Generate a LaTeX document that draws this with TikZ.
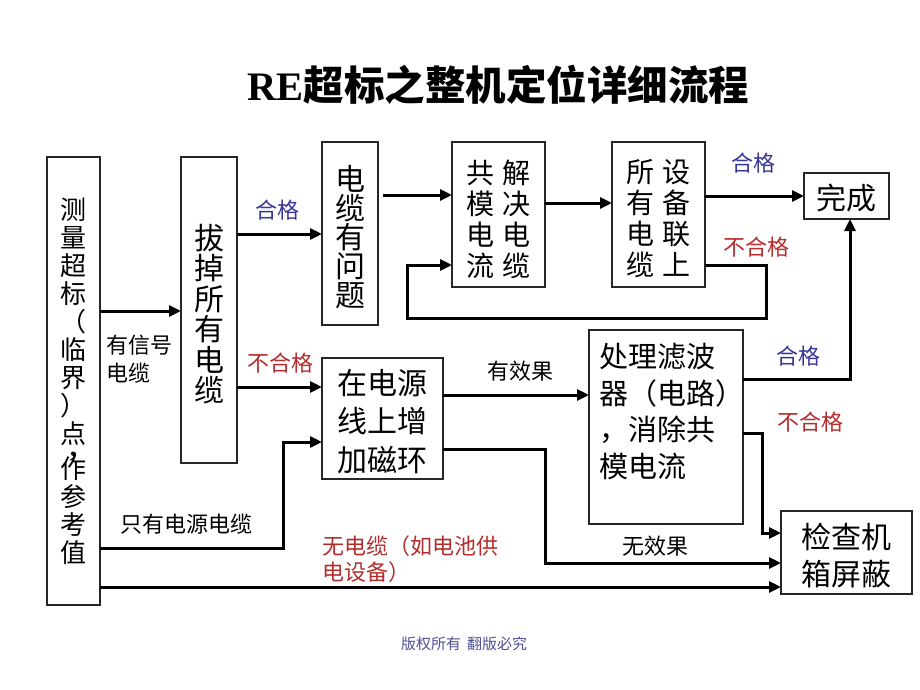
\documentclass[tikz,border=0pt]{standalone}
\usepackage{fontspec}
\setmainfont{Liberation Serif}
\newfontfamily\cjk{Noto Sans CJK SC}
\usetikzlibrary{arrows.meta}
\definecolor{okblue}{RGB}{55,55,150}
\definecolor{ngred}{RGB}{180,45,45}
\definecolor{footblue}{RGB}{80,80,150}
\begin{document}
\begin{tikzpicture}[x=1pt,y=-1pt,
  box/.style={draw=black!85,line width=1.1pt,inner sep=0pt,outer sep=0pt},
  arr/.style={line width=3pt,-{Triangle[length=12pt,width=11pt]}},
  txt/.style={inner sep=0pt,align=center},
  lbl/.style={inner sep=0pt,font=\cjk\fontsize{22}{28}\selectfont},
  okl/.style={lbl,text=okblue},
  ngl/.style={lbl,text=ngred}]
\useasboundingbox (0,0) rectangle (920,690);
\fill[white] (0,0) rectangle (920,690);

% title
\node[inner sep=0pt] (title) at (498.5,85) {\fontsize{40.5}{44}\selectfont\bfseries RE{\cjk 超标之整机定位详细流程}};

% boxes
\node[box,minimum width=53pt,minimum height=448pt] (A) at (73.5,381) {};
\node[box,minimum width=56pt,minimum height=306pt] (B) at (209,310) {};
\node[box,minimum width=56pt,minimum height=183pt] (C) at (350,233.5) {};
\node[box,minimum width=93pt,minimum height=145pt] (D) at (498.5,214.5) {};
\node[box,minimum width=93pt,minimum height=145pt] (E) at (658.5,214.5) {};
\node[box,minimum width=85pt,minimum height=46pt] (F) at (846.5,196) {};
\node[box,minimum width=121pt,minimum height=121pt] (G) at (382.5,418.5) {};
\node[box,minimum width=154pt,minimum height=194pt] (H) at (666,427) {};
\node[box,minimum width=131pt,minimum height=83pt] (I) at (846.5,552.5) {};

% box texts
\node[txt,anchor=north,font=\cjk\fontsize{26}{28}\selectfont] (Atext) at (73.5,198)
  {测\\量\\超\\标\\（\\临\\界\\）\\点\\[-15pt]{\fontsize{30}{28}\selectfont\rmfamily\bfseries ,}\hspace*{12pt}\\[-6pt]作\\参\\考\\值};
\node[txt,font=\cjk\fontsize{30}{30.5}\selectfont] (Btext) at (209,314) {拔\\掉\\所\\有\\电\\缆};
\node[txt,font=\cjk\fontsize{30}{29}\selectfont] (Ctext) at (350,237.5) {电\\缆\\有\\问\\题};
\node[txt,font=\cjk\fontsize{28}{31}\selectfont] (Dtext) at (498.5,219)
  {共\hspace{9pt}解\\模\hspace{9pt}决\\电\hspace{9pt}电\\流\hspace{9pt}缆};
\node[txt,font=\cjk\fontsize{28}{31}\selectfont] (Etext) at (658.5,219)
  {所\hspace{9pt}设\\有\hspace{9pt}备\\电\hspace{9pt}联\\缆\hspace{9pt}上};
\node[txt,font=\cjk\fontsize{30}{32}\selectfont] (Ftext) at (846.5,198.5) {完成};
\node[txt,font=\cjk\fontsize{30}{38.5}\selectfont] (Gtext) at (382.5,421.5) {在电源\\线上增\\加磁环};
\node[inner sep=0pt,align=left,anchor=north west,font=\cjk\fontsize{29}{36.5}\selectfont] (Htext) at (599,343)
  {处理滤波\\器（电路）\\，消除共\\模电流};
\node[txt,font=\cjk\fontsize{30}{37}\selectfont] (Itext) at (846.5,555.5) {检查机\\箱屏蔽};

% connectors
\draw[arr] (A.east|-0,311) -- (B.west|-0,311);
\draw[arr] (B.east|-0,234) -- (C.west|-0,234);
\draw[arr] (B.east|-0,387) -- (G.west|-0,387);
\draw[arr] ([xshift=5pt]C.east|-0,195) -- (D.west|-0,195);
\draw[arr] (D.east|-0,203) -- (E.west|-0,203);
\draw[arr] (E.east|-0,196) -- (F.west|-0,196);
\draw[arr] (E.east|-0,265) -- (766,265) -- (766,318) -- (407,318) -- (407,265) -- (D.west|-0,265);
\draw[arr] (G.east|-0,395) -- (H.west|-0,395);
\draw[arr] (H.east|-0,379) -- (850,379) -- (F.south-|850,0);
\draw[arr] (H.east|-0,433) -- (762,433) -- (762,533) -- (I.west|-0,533);
\draw[arr] (A.east|-0,548) -- (283,548) -- (283,442) -- (G.west|-0,442);
\draw[arr] (G.east|-0,449) -- (545,449) -- (545,563) -- (I.west|-0,563);
\draw[arr] (A.east|-0,587) -- (I.west|-0,587);

% labels
\node[lbl,anchor=north west,align=left] (l1) at (106,335) {有信号\\电缆};
\node[okl] (l2) at (277,210) {合格};
\node[ngl] (l3) at (280,363) {不合格};
\node[okl] (l4) at (753,163) {合格};
\node[ngl] (l5) at (756,247) {不合格};
\node[lbl] (l6) at (520,371) {有效果};
\node[okl] (l7) at (798,356) {合格};
\node[ngl] (l8) at (810,422) {不合格};
\node[lbl] (l9) at (186,524) {只有电源电缆};
\node[lbl] (l10) at (655,546) {无效果};
\node[ngl,anchor=north west,align=left,font=\cjk\fontsize{22}{26}\selectfont] (l11) at (322,535) {无电缆（如电池供\\电设备）};

% footer
\node[inner sep=0pt,text=footblue,font=\cjk\fontsize{15}{18}\selectfont] (foot) at (464,644) {版权所有\hspace{6pt}翻版必究};
\end{tikzpicture}
\end{document}
